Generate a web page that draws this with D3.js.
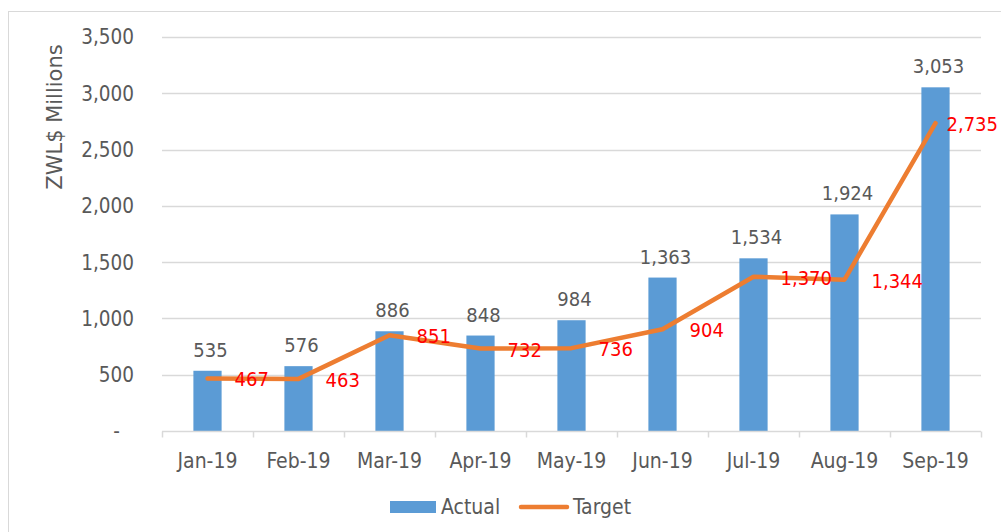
<!DOCTYPE html>
<html>
<head>
<meta charset="utf-8">
<script src="https://cdn.jsdelivr.net/npm/d3@7"></script>
<style>
  body { margin: 0; background: #fff; }
  svg { display: block; font-family: "DejaVu Sans Condensed", "DejaVu Sans", sans-serif; font-stretch: condensed; }
</style>
</head>
<body>
<div id="chart"></div>
<script>
const months = ["Jan-19", "Feb-19", "Mar-19", "Apr-19", "May-19", "Jun-19", "Jul-19", "Aug-19", "Sep-19"];
const actual = [535, 576, 886, 848, 984, 1363, 1534, 1924, 3053];
const target = [467, 463, 851, 732, 736, 904, 1370, 1344, 2735];
const yTicks = [0, 500, 1000, 1500, 2000, 2500, 3000, 3500];

const width = 1001, height = 532;
const margin = { left: 162, right: 20, top: 37, bottom: 101 };
const numSize = "20px";
const textSize = "21px";

const svg = d3.select("#chart").append("svg")
    .attr("width", width)
    .attr("height", height);

// bingkai chart
svg.append("rect")
    .attr("x", 8.5).attr("y", 11.5)
    .attr("width", 1200).attr("height", 700)
    .attr("fill", "none")
    .attr("stroke", "#d9d9d9");

const x = d3.scaleBand()
    .domain(months)
    .range([margin.left, width - margin.right]);

const y = d3.scaleLinear()
    .domain([0, 3500])
    .range([height - margin.bottom, margin.top]);

const fmt = d3.format(",");

// grid
svg.append("g")
    .selectAll("line")
    .data(yTicks.slice(1))
    .enter().append("line")
    .attr("x1", margin.left).attr("x2", width - margin.right)
    .attr("y1", d => Math.round(y(d)) + 0.5)
    .attr("y2", d => Math.round(y(d)) + 0.5)
    .attr("stroke", "#d9d9d9")
    .attr("stroke-width", 1.5);

// y labels
svg.append("g")
    .selectAll("text")
    .data(yTicks)
    .enter().append("text")
    .attr("x", d => d === 0 ? 120 : 134)
    .attr("y", d => y(d))
    .attr("dy", "0.36em")
    .attr("text-anchor", "end")
    .attr("fill", "#595959")
    .attr("font-size", "20.5px")
    .text(d => d === 0 ? "-" : fmt(d));

svg.append("text")
    .attr("transform", `translate(62, 117) rotate(-90)`)
    .attr("text-anchor", "middle")
    .attr("fill", "#595959")
    .attr("font-size", textSize)
    .style("font-family", "'DejaVu Sans', sans-serif")
    .style("font-stretch", "normal")
    .text("ZWL$ Millions");

// bars
const barW = x.bandwidth() * 0.31;
svg.append("g")
    .selectAll("rect")
    .data(actual)
    .enter().append("rect")
    .attr("x", (d, i) => x(months[i]) + x.bandwidth() / 2 - barW / 2)
    .attr("y", d => y(d))
    .attr("width", barW)
    .attr("height", d => y(0) - y(d))
    .attr("fill", "#5b9bd5");

// x axis
const axisY = Math.round(y(0)) + 0.5;
svg.append("line")
    .attr("x1", margin.left).attr("x2", width - margin.right)
    .attr("y1", axisY).attr("y2", axisY)
    .attr("stroke", "#d9d9d9")
    .attr("stroke-width", 1.5);

svg.append("g")
    .selectAll("line")
    .data(months.concat(["end"]))
    .enter().append("line")
    .attr("x1", (d, i) => Math.round(margin.left + i * x.step()) + 0.5)
    .attr("x2", (d, i) => Math.round(margin.left + i * x.step()) + 0.5)
    .attr("y1", axisY).attr("y2", axisY + 6)
    .attr("stroke", "#d9d9d9")
    .attr("stroke-width", 1.5);

svg.append("g")
    .selectAll("text")
    .data(months)
    .enter().append("text")
    .attr("x", d => x(d) + x.bandwidth() / 2)
    .attr("y", axisY + 36)
    .attr("text-anchor", "middle")
    .attr("fill", "#595959")
    .attr("font-size", textSize)
    .text(d => d);

// target line
const line = d3.line()
    .x((d, i) => x(months[i]) + x.bandwidth() / 2)
    .y(d => y(d));

svg.append("path")
    .datum(target)
    .attr("d", line)
    .attr("fill", "none")
    .attr("stroke", "#ed7d31")
    .attr("stroke-width", 4.5)
    .attr("stroke-linejoin", "round")
    .attr("stroke-linecap", "round");

// label actual
svg.append("g")
    .selectAll("text")
    .data(actual)
    .enter().append("text")
    .attr("x", (d, i) => x(months[i]) + x.bandwidth() / 2 + 3)
    .attr("y", d => y(d) - 14)
    .attr("text-anchor", "middle")
    .attr("fill", "#595959")
    .attr("font-size", numSize)
    .text(d => fmt(d));

// label target (yang terakhir digeser supaya tidak terpotong)
svg.append("g")
    .selectAll("text")
    .data(target)
    .enter().append("text")
    .attr("x", (d, i) => x(months[i]) + x.bandwidth() / 2 + (i === target.length - 1 ? 11 : 27))
    .attr("y", d => y(d))
    .attr("dy", "0.4em")
    .attr("fill", "#ff0000")
    .attr("font-size", numSize)
    .text(d => fmt(d));

// legend
const legend = svg.append("g");
legend.append("rect")
    .attr("x", 390).attr("y", 501)
    .attr("width", 46).attr("height", 12)
    .attr("fill", "#5b9bd5");
legend.append("text")
    .attr("x", 441).attr("y", 514)
    .attr("fill", "#595959")
    .attr("font-size", textSize)
    .text("Actual");
legend.append("line")
    .attr("x1", 521).attr("x2", 567)
    .attr("y1", 507).attr("y2", 507)
    .attr("stroke", "#ed7d31")
    .attr("stroke-width", 4.5)
    .attr("stroke-linecap", "round");
legend.append("text")
    .attr("x", 573).attr("y", 514)
    .attr("fill", "#595959")
    .attr("font-size", textSize)
    .text("Target");
</script>
</body>
</html>
